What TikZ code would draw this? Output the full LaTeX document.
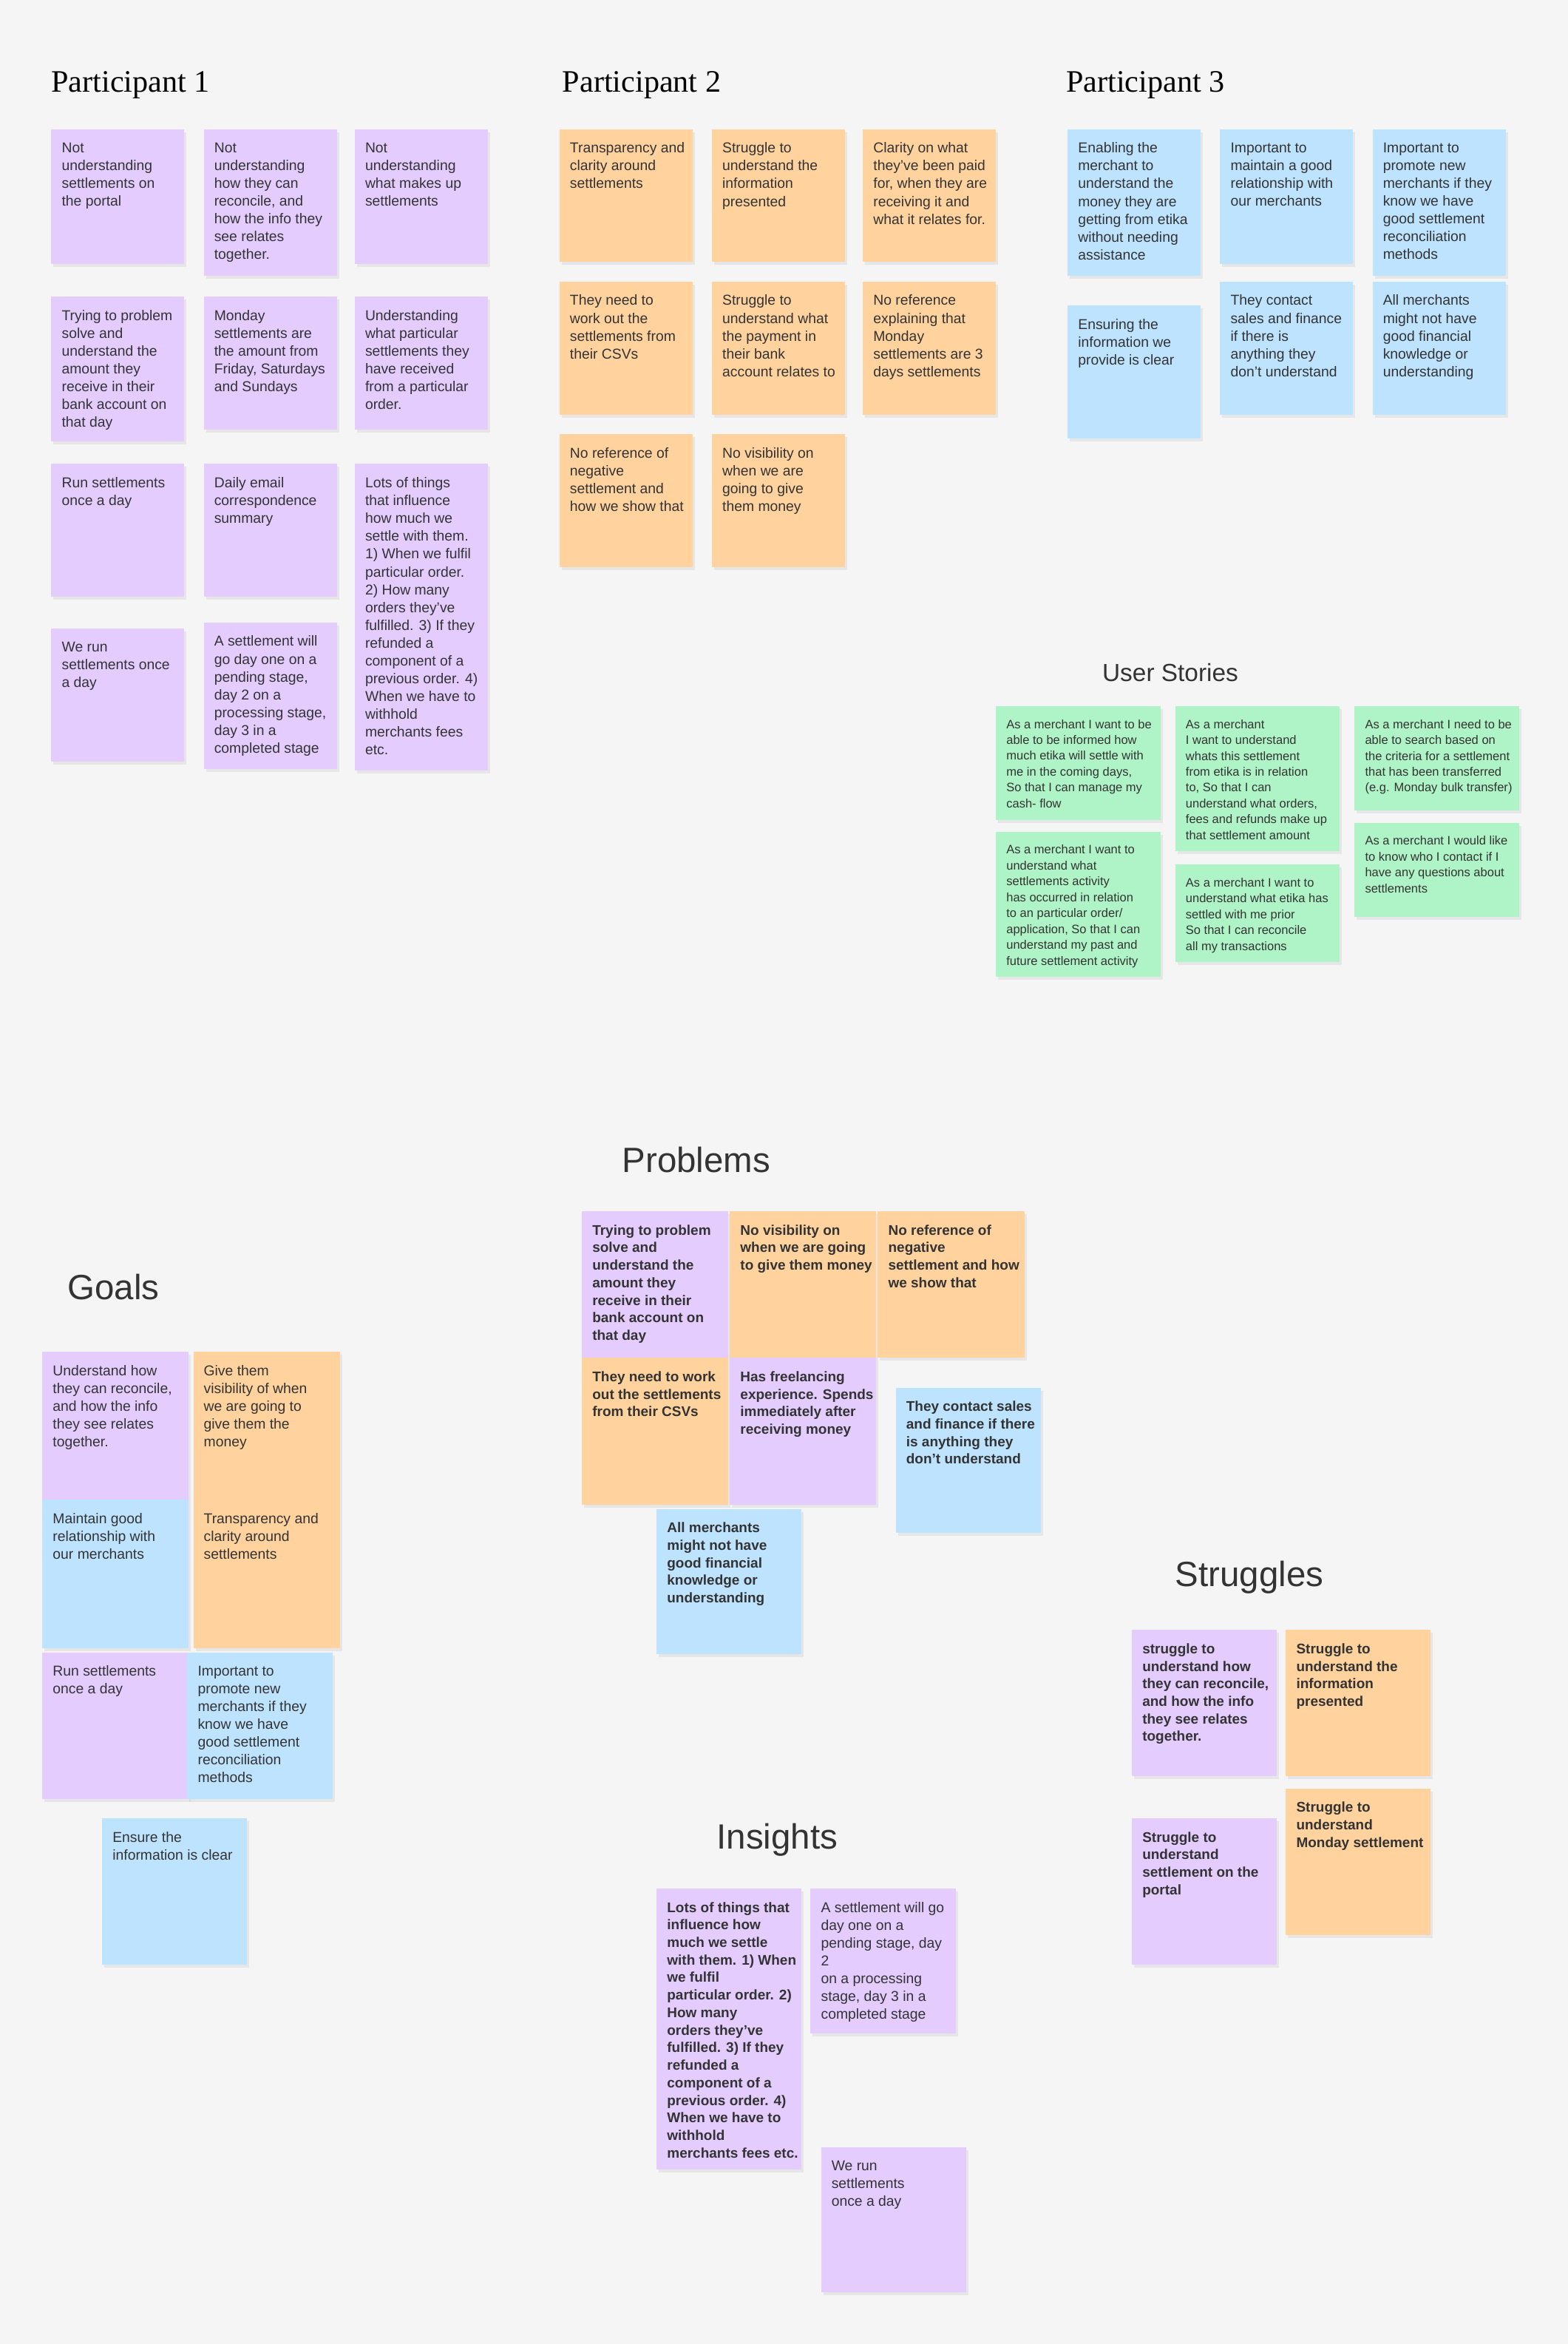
\documentclass[tikz,border=0pt]{standalone}
\usepackage{fontspec}
\setmainfont{Liberation Serif}
\setsansfont{Liberation Sans}
\usetikzlibrary{positioning,shadows}
\definecolor{bg}{HTML}{F5F5F5}
\definecolor{pu}{HTML}{E4CCFF}
\definecolor{og}{HTML}{FFD29E}
\definecolor{bl}{HTML}{BDE3FF}
\definecolor{gr}{HTML}{AFF4C6}
\definecolor{ink}{HTML}{333333}
\def\pxu{0.2021mm}
\tikzset{
  note/.style={rectangle, anchor=north west, inner sep=0pt, drop shadow={opacity=0.12, shadow xshift=0.3mm, shadow yshift=-0.4mm}},
  txt/.style={anchor=north west, align=left, inner sep=0pt, text=ink, font=\sffamily\fontsize{5.5}{6.85}\selectfont},
  story/.style={txt, font=\sffamily\fontsize{4.7}{6.1}\selectfont},
  bold/.style={txt, font=\sffamily\bfseries\fontsize{5.4}{6.75}\selectfont},
  phead/.style={anchor=west, inner sep=0pt, font=\fontsize{12}{14}\selectfont, text=black},
  shead/.style={inner sep=0pt, font=\sffamily\fontsize{13.5}{16}\selectfont, text=ink},
}
% sticky note: name, x, y, width, height, colour, text style, text
\newcommand{\sticky}[8]{%
  \node[note, fill=#6, minimum width=#4*\pxu, minimum height=#5*\pxu] (#1) at (#2,#3) {};
  \node[#7] at ([shift={(7*\pxu,-9*\pxu)}]#1.north west) {#8};}
\begin{document}
\begin{tikzpicture}[x=\pxu, y=-\pxu]
  \fill[bg] (0,0) rectangle (1049,1568);
  \useasboundingbox (0,0) rectangle (1049,1568);

  % Participant 1
  \node[phead] (hp1) at (34,57) {Participant 1};
  \sticky{p1a}{34}{86}{89}{90}{pu}{txt}{Not\\understanding\\settlements on\\the portal}
  \sticky{p1b}{136}{86}{89}{98}{pu}{txt}{Not\\understanding\\how they can\\reconcile, and\\how the info they\\see relates\\together.}
  \sticky{p1c}{237}{86}{89}{90}{pu}{txt}{Not\\understanding\\what makes up\\settlements}
  \sticky{p1d}{34}{198}{89}{97}{pu}{txt}{Trying to problem\\solve and\\understand the\\amount they\\receive in their\\bank account on\\that day}
  \sticky{p1e}{136}{198}{89}{89}{pu}{txt}{Monday\\settlements are\\the amount from\\Friday, Saturdays\\and Sundays}
  \sticky{p1f}{237}{198}{89}{89}{pu}{txt}{Understanding\\what particular\\settlements they\\have received\\from a particular\\order.}
  \sticky{p1g}{34}{310}{89}{89}{pu}{txt}{Run settlements\\once a day}
  \sticky{p1h}{136}{310}{89}{89}{pu}{txt}{Daily email\\correspondence\\summary}
  \sticky{p1i}{237}{310}{89}{205}{pu}{txt}{Lots of things\\that influence\\how much we\\settle with them.\\1) When we fulfil\\particular order.\\2) How many\\orders they've\\fulfilled. 3) If they\\refunded a\\component of a\\previous order. 4)\\When we have to\\withhold\\merchants fees\\etc.}
  \sticky{p1j}{34}{420}{89}{89}{pu}{txt}{We run\\settlements once\\a day}
  \sticky{p1k}{136}{416}{89}{98}{pu}{txt}{A settlement will\\go day one on a\\pending stage,\\day 2 on a\\processing stage,\\day 3 in a\\completed stage}

  % Participant 2
  \node[phead] (hp2) at (376,57) {Participant 2};
  \sticky{p2a}{374}{86}{89}{89}{og}{txt}{Transparency and\\clarity around\\settlements}
  \sticky{p2b}{476}{86}{89}{89}{og}{txt}{Struggle to\\understand the\\information\\presented}
  \sticky{p2c}{577}{86}{89}{89}{og}{txt}{Clarity on what\\they've been paid\\for, when they are\\receiving it and\\what it relates for.}
  \sticky{p2d}{374}{188}{89}{89}{og}{txt}{They need to\\work out the\\settlements from\\their CSVs}
  \sticky{p2e}{476}{188}{89}{89}{og}{txt}{Struggle to\\understand what\\the payment in\\their bank\\account relates to}
  \sticky{p2f}{577}{188}{89}{89}{og}{txt}{No reference\\explaining that\\Monday\\settlements are 3\\days settlements}
  \sticky{p2g}{374}{290}{89}{89}{og}{txt}{No reference of\\negative\\settlement and\\how we show that}
  \sticky{p2h}{476}{290}{89}{89}{og}{txt}{No visibility on\\when we are\\going to give\\them money}

  % Participant 3
  \node[phead] (hp3) at (713,57) {Participant 3};
  \sticky{p3a}{714}{86}{89}{98}{bl}{txt}{Enabling the\\merchant to\\understand the\\money they are\\getting from etika\\without needing\\assistance}
  \sticky{p3b}{816}{86}{89}{90}{bl}{txt}{Important to\\maintain a good\\relationship with\\our merchants}
  \sticky{p3c}{918}{86}{89}{98}{bl}{txt}{Important to\\promote new\\merchants if they\\know we have\\good settlement\\reconciliation\\methods}
  \sticky{p3d}{714}{204}{89}{89}{bl}{txt}{Ensuring the\\information we\\provide is clear}
  \sticky{p3e}{816}{188}{89}{89}{bl}{txt}{They contact\\sales and finance\\if there is\\anything they\\don't understand}
  \sticky{p3f}{918}{188}{89}{89}{bl}{txt}{All merchants\\might not have\\good financial\\knowledge or\\understanding}

  % User stories
  \node[shead, font=\sffamily\fontsize{9.5}{11}\selectfont] (hus) at (783,450) {User Stories};
  \sticky{us1}{666}{472}{110}{76}{gr}{story}{As a merchant I want to be\\able to be informed how\\much etika will settle with\\me in the coming days,\\So that I can manage my\\cash- flow}
  \sticky{us2}{786}{472}{110}{97}{gr}{story}{As a merchant\\I want to understand\\whats this settlement\\from etika is in relation\\to, So that I can\\understand what orders,\\fees and refunds make up\\that settlement amount}
  \sticky{us3}{906}{472}{110}{70}{gr}{story}{As a merchant I need to be\\able to search based on\\the criteria for a settlement\\that has been transferred\\(e.g. Monday bulk transfer)}
  \sticky{us4}{666}{556}{110}{97}{gr}{story}{As a merchant I want to\\understand what\\settlements activity\\has occurred in relation\\to an particular order/\\application, So that I can\\understand my past and\\future settlement activity}
  \sticky{us5}{786}{578}{110}{65}{gr}{story}{As a merchant I want to\\understand what etika has\\settled with me prior\\So that I can reconcile\\all my transactions}
  \sticky{us6}{906}{550}{110}{63}{gr}{story}{As a merchant I would like\\to know who I contact if I\\have any questions about\\settlements}

  % Problems
  \node[shead, anchor=west] (hpr) at (416,776) {Problems};
  \sticky{pr1}{389}{810}{98}{98}{pu}{bold}{Trying to problem\\solve and\\understand the\\amount they\\receive in their\\bank account on\\that day}
  \sticky{pr2}{488}{810}{98}{98}{og}{bold}{No visibility on\\when we are going\\to give them money}
  \sticky{pr3}{587}{810}{98}{98}{og}{bold}{No reference of\\negative\\settlement and how\\we show that}
  \sticky{pr4}{389}{908}{98}{98}{og}{bold}{They need to work\\out the settlements\\from their CSVs}
  \sticky{pr5}{488}{908}{98}{98}{pu}{bold}{Has freelancing\\experience. Spends\\immediately after\\receiving money}
  \sticky{pr6}{599}{928}{97}{97}{bl}{bold}{They contact sales\\and finance if there\\is anything they\\don't understand}
  \sticky{pr7}{439}{1009}{97}{97}{bl}{bold}{All merchants\\might not have\\good financial\\knowledge or\\understanding}

  % Goals
  \node[shead, anchor=west] (hgo) at (45,861) {Goals};
  \sticky{go1}{28}{904}{98}{99}{pu}{txt}{Understand how\\they can reconcile,\\and how the info\\they see relates\\together.}
  \sticky{go2}{129}{904}{98}{99}{og}{txt}{Give them\\visibility of when\\we are going to\\give them the\\money}
  \sticky{go3}{28}{1003}{98}{99}{bl}{txt}{Maintain good\\relationship with\\our merchants}
  \sticky{go4}{129}{1003}{98}{99}{og}{txt}{Transparency and\\clarity around\\settlements}
  \sticky{go5}{28}{1105}{98}{98}{pu}{txt}{Run settlements\\once a day}
  \sticky{go6}{125}{1105}{97}{98}{bl}{txt}{Important to\\promote new\\merchants if they\\know we have\\good settlement\\reconciliation\\methods}
  \sticky{go7}{68}{1216}{97}{98}{bl}{txt}{Ensure the\\information is clear}

  % Struggles
  \node[shead, anchor=west] (hst) at (786,1055) {Struggles};
  \sticky{st1}{757}{1090}{97}{98}{pu}{bold}{struggle to\\understand how\\they can reconcile,\\and how the info\\they see relates\\together.}
  \sticky{st2}{860}{1090}{97}{98}{og}{bold}{Struggle to\\understand the\\information\\presented}
  \sticky{st3}{757}{1216}{97}{98}{pu}{bold}{Struggle to\\understand\\settlement on the\\portal}
  \sticky{st4}{860}{1196}{97}{98}{og}{bold}{Struggle to\\understand\\Monday settlement}

  % Insights
  \node[shead] (hin) at (520,1231) {Insights};
  \sticky{in1}{439}{1263}{97}{188}{pu}{bold}{Lots of things that\\influence how\\much we settle\\with them. 1) When\\we fulfil\\particular order. 2)\\How many\\orders they've\\fulfilled. 3) If they\\refunded a\\component of a\\previous order. 4)\\When we have to\\withhold\\merchants fees etc.}
  \sticky{in2}{542}{1263}{97}{97}{pu}{txt}{A settlement will go\\day one on a\\pending stage, day\\2\\on a processing\\stage, day 3 in a\\completed stage}
  \sticky{in3}{549}{1436}{97}{97}{pu}{txt}{We run\\settlements\\once a day}
\end{tikzpicture}
\end{document}
